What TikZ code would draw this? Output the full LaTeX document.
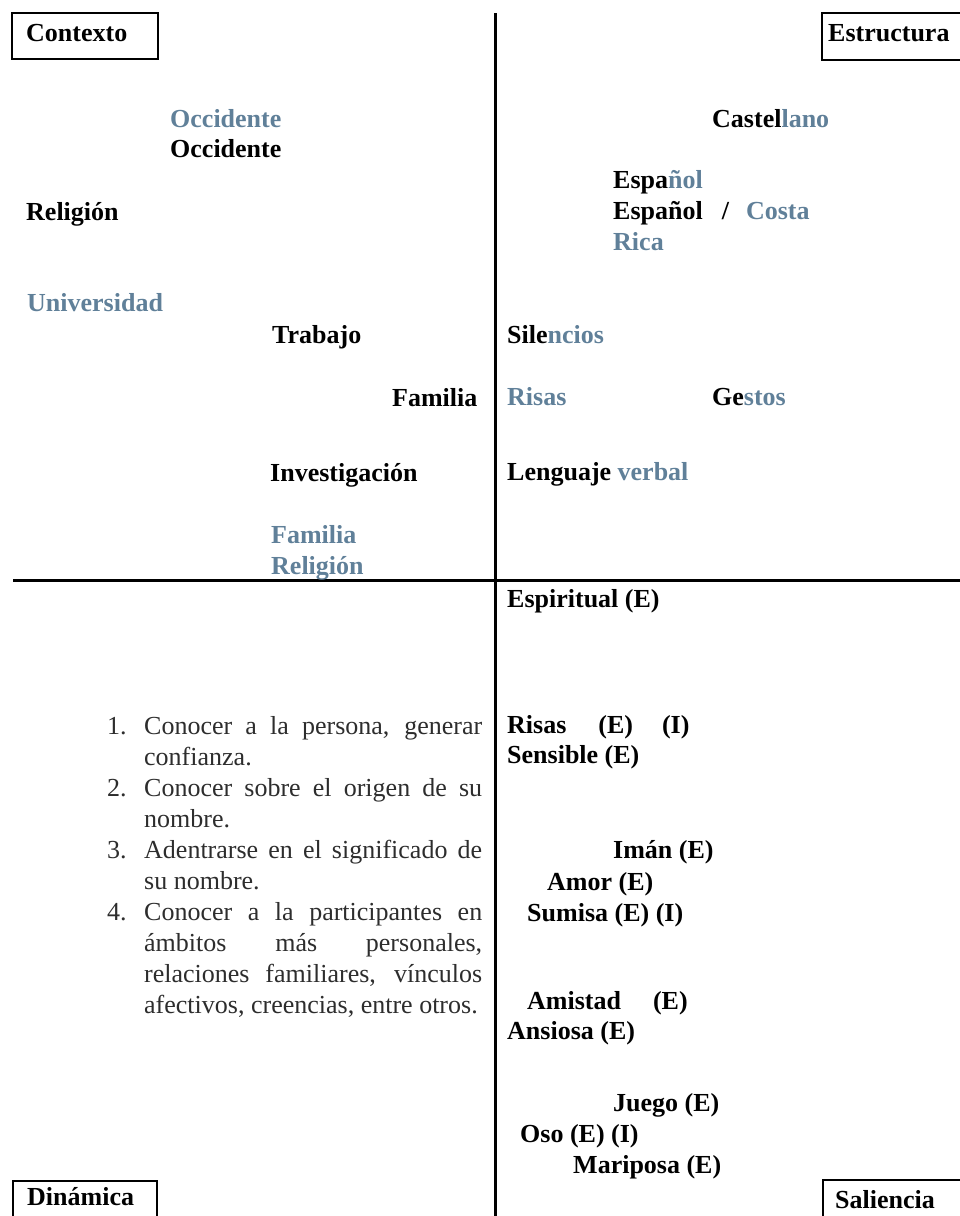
\documentclass[tikz,border=0pt]{standalone}
\usepackage{fontspec}
\setmainfont{Liberation Serif}
\definecolor{bgray}{RGB}{96,128,153}
\definecolor{lgray}{RGB}{45,45,45}
\newcommand{\bl}[1]{\textcolor{bgray}{#1}}
\newcommand{\jl}[1]{\makebox[338pt][s]{#1}}
\begin{document}
\begin{tikzpicture}[x=1pt,y=-1pt,
  lbl/.style={anchor=base west, inner sep=0pt, font=\fontsize{26}{30}\selectfont\bfseries, text=black},
  blu/.style={lbl, text=bgray},
  frame/.style={draw=black, line width=2.5pt},
  axisline/.style={draw=black, line width=3pt},
  itm/.style={anchor=base west, inner sep=0pt, font=\fontsize{26}{31}\selectfont, text=lgray}]
\useasboundingbox (0,0) rectangle (959,1216);
% axes
\coordinate (vtop) at (495,13);
\coordinate (vbot) at (495,1218);
\coordinate (hl) at (13,580);
\coordinate (hr) at (961,580);
\draw[axisline] (vtop) -- (vbot);
\draw[axisline] (hl) -- (hr);
% corner frames
\draw[frame] (12,13) rectangle (158,59);
\draw[frame] (822,13) rectangle (965,60);
\draw[frame] (13,1181) rectangle (157,1222);
\draw[frame] (823,1180) rectangle (965,1222);
\node[lbl] (contexto) at (26,41.5) {Contexto};
\node[lbl] (estructura) at (828,41.5) {Estructura};
\node[lbl] (dinamica) at (27,1205) {Dinámica};
\node[lbl] (saliencia) at (835,1208) {Saliencia};
% Contexto quadrant
\node[blu] (occ1) at (170,127) {Occidente};
\node[lbl] (occ2) at (170,157) {Occidente};
\node[lbl] (rel1) at (26,220) {Religión};
\node[blu] (univ) at (27,311) {Universidad};
\node[lbl] (trab) at (272,343) {Trabajo};
\node[lbl] (fam1) at (392,406) {Familia};
\node[lbl] (inv) at (270,481) {Investigación};
\node[blu] (fam2) at (271,543) {Familia};
\node[blu] (rel2) at (271,574) {Religión};
% Estructura quadrant
\node[lbl] (cast) at (712,127) {Castel\bl{lano}};
\node[lbl] (esp1) at (613,188) {Espa\bl{ñol}};
\node[lbl] (esp2) at (613,219) {Español\hspace{19pt}/\hspace{17pt}\bl{Costa}};
\node[blu] (rica) at (613,250) {Rica};
\node[lbl] (sil) at (507,343) {Sile\bl{ncios}};
\node[blu] (ris1) at (507,405) {Risas};
\node[lbl] (gest) at (712,405) {Ge\bl{stos}};
\node[lbl] (leng) at (507,480) {Lenguaje \bl{verbal}};
% Saliencia quadrant
\node[lbl] (espir) at (507,607) {Espiritual (E)};
\node[lbl] (ris2) at (507,733) {Risas\hspace{32pt}(E)\hspace{29pt}(I)};
\node[lbl] (sens) at (507,763) {Sensible (E)};
\node[lbl] (iman) at (613,858) {Imán (E)};
\node[lbl] (amor) at (547,890) {Amor (E)};
\node[lbl] (sum) at (527,921) {Sumisa (E) (I)};
\node[lbl] (amis) at (527,1009) {Amistad\hspace{32pt}(E)};
\node[lbl] (ansi) at (507,1039) {Ansiosa (E)};
\node[lbl] (jueg) at (613,1111) {Juego (E)};
\node[lbl] (oso) at (520,1142) {Oso (E) (I)};
\node[lbl] (mari) at (573,1173) {Mariposa (E)};
% Dinamica list
\node[itm] (n1) at (107,734) {1.};
\node[itm] (l1) at (144,734) {\jl{Conocer a la persona, generar}};
\node[itm] (l2) at (144,765) {confianza.};
\node[itm] (n2) at (107,796) {2.};
\node[itm] (l3) at (144,796) {\jl{Conocer sobre el origen de su}};
\node[itm] (l4) at (144,827) {nombre.};
\node[itm] (n3) at (107,858) {3.};
\node[itm] (l5) at (144,858) {\jl{Adentrarse en el significado de}};
\node[itm] (l6) at (144,889) {su nombre.};
\node[itm] (n4) at (107,920) {4.};
\node[itm] (l7) at (144,920) {\jl{Conocer a la participantes en}};
\node[itm] (l8) at (144,951) {\jl{ámbitos más personales,}};
\node[itm] (l9) at (144,982) {\jl{relaciones familiares, vínculos}};
\node[itm] (l10) at (144,1013) {afectivos, creencias, entre otros.};
\end{tikzpicture}
\end{document}
